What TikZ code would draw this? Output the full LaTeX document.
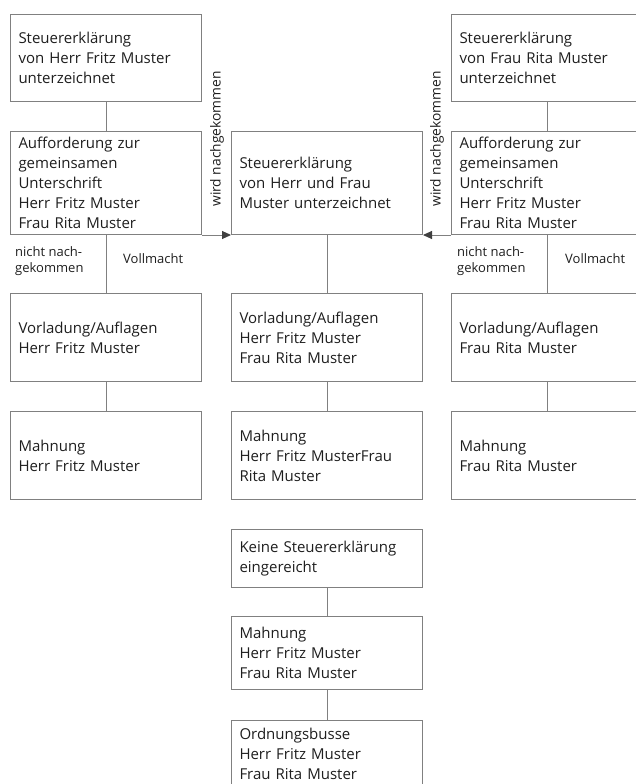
\documentclass[tikz,border=0pt]{standalone}
\usepackage{fontspec}
\setmainfont{Open Sans}
\usetikzlibrary{arrows.meta}
\definecolor{linegray}{HTML}{808080}
\definecolor{textgray}{HTML}{1E1E1E}
\definecolor{tipgray}{HTML}{404040}

\begin{document}
\begin{tikzpicture}[x=1pt,y=-1pt,every node/.style={text=textgray},
  box/.style={draw=linegray,line width=1pt,anchor=north west,text width=175pt,inner xsep=8pt,inner ysep=0pt,align=left,font=\fontsize{15}{20}\selectfont},
  link/.style={draw=linegray,line width=1pt},
  small/.style={anchor=west,align=left,inner sep=0pt,font=\fontsize{13}{16}\selectfont},
  turned/.style={rotate=90,inner sep=0pt,font=\fontsize{13.8}{15}\selectfont}]
   \useasboundingbox (0,0) rectangle (636,784);
   \node[box,minimum height=87pt] (erklherr) at (10,14) {Steuererklärung\\von Herr Fritz Muster\\unterzeichnet};
   \node[box,minimum height=87pt] (erklfrau) at (451,14) {Steuererklärung\\von Frau Rita Muster\\unterzeichnet};
   \node[box,minimum height=103pt] (aufherr) at (10,131) {Aufforderung zur\\gemeinsamen\\Unterschrift\\Herr Fritz Muster\\Frau Rita Muster};
   \node[box,minimum height=103pt] (erklpaar) at (231,131) {Steuererklärung\\von Herr und Frau\\Muster unterzeichnet};
   \node[box,minimum height=103pt] (auffrau) at (451,131) {Aufforderung zur\\gemeinsamen\\Unterschrift\\Herr Fritz Muster\\Frau Rita Muster};
   \node[box,minimum height=88pt] (vorherr) at (10,293) {Vorladung/Auflagen\\Herr Fritz Muster};
   \node[box,minimum height=88pt] (vorpaar) at (231,293) {Vorladung/Auflagen\\Herr Fritz Muster\\Frau Rita Muster};
   \node[box,minimum height=88pt] (vorfrau) at (451,293) {Vorladung/Auflagen\\Frau Rita Muster};
   \node[box,minimum height=88pt] (mahnherr) at (10,411) {Mahnung\\Herr Fritz Muster};
   \node[box,minimum height=88pt] (mahnpaar) at (231,411) {Mahnung\\Herr Fritz MusterFrau\\Rita Muster};
   \node[box,minimum height=88pt] (mahnfrau) at (451,411) {Mahnung\\Frau Rita Muster};
   \node[box,minimum height=58pt] (keine) at (231,529) {Keine Steuererklärung\\eingereicht};
   \node[box,minimum height=73pt] (mahnkeine) at (231,616) {Mahnung\\Herr Fritz Muster\\Frau Rita Muster};
   \node[box,minimum height=67pt] (busse) at (231,720) {Ordnungsbusse\\Herr Fritz Muster\\Frau Rita Muster};
   \node[turned] (wirdherr) at (217,139) {wird nachgekommen};
   \node[turned] (wirdfrau) at (437,139) {wird nachgekommen};
   \node[small] (nichtherr) at (15,261) {nicht nach-\\gekommen};
   \node[small] (vollherr) at (123,259) {Vollmacht};
   \node[small] (nichtfrau) at (457,261) {nicht nach-\\gekommen};
   \node[small] (vollfrau) at (565,259) {Vollmacht};
   \draw[link] (erklherr) -- (aufherr);
   \draw[link] (erklfrau) -- (auffrau);
   \draw[link] (aufherr) -- (vorherr);
   \draw[link] (auffrau) -- (vorfrau);
   \draw[link] (erklpaar) -- (vorpaar);
   \draw[link] (vorherr) -- (mahnherr);
   \draw[link] (vorpaar) -- (mahnpaar);
   \draw[link] (vorfrau) -- (mahnfrau);
   \draw[link] (keine) -- (mahnkeine);
   \draw[link] (mahnkeine) -- (busse);
   \draw[link,-{Triangle[length=9pt,width=8pt,color=tipgray]}] (aufherr.south east) -- (erklpaar.south west);
   \draw[link,-{Triangle[length=9pt,width=8pt,color=tipgray]}] (auffrau.south west) -- (erklpaar.south east);
\end{tikzpicture}
\end{document}
